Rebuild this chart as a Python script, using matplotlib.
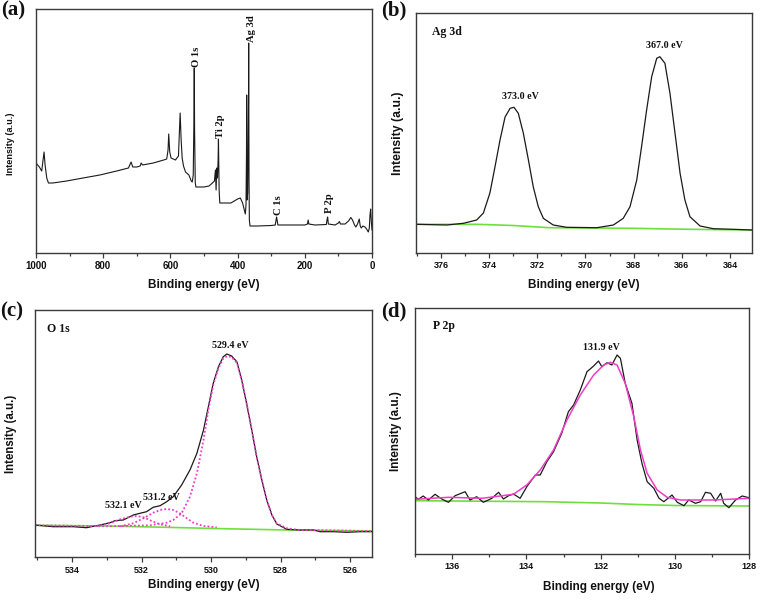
import matplotlib
matplotlib.use('Agg')
import matplotlib.pyplot as plt
from matplotlib.ticker import MultipleLocator

SANS = 'Liberation Sans'
SERIF = 'Liberation Serif'
plt.rcParams['font.family'] = SANS
plt.rcParams['font.weight'] = 'bold'

# ---------------- (a) survey spectrum ----------------
survey_be = [1000, 990, 983, 979, 976, 973, 968, 963, 950, 909, 860, 810, 760, 725, 717, 712,
             700, 690, 687, 683, 651, 620, 611, 607, 605, 602, 598, 585, 576, 573, 571, 568,
             565, 561, 555, 545, 538, 535, 532, 530, 529, 528, 526, 524, 500, 485, 475, 469,
             466, 464, 462, 460, 458, 457, 455, 453, 440, 420, 400, 392, 385, 380, 377, 375,
             373.5, 373, 372, 370, 367.5, 367, 366, 365, 363, 340, 300, 288, 285, 284, 283,
             280, 250, 200, 192, 190, 188, 170, 136, 134, 132, 130, 110, 100, 97, 94, 80, 70,
             63, 58, 52, 48, 43, 38, 35, 32, 27, 21, 16, 11, 8, 6, 4, 2, 0]
survey_int = [90, 86, 82, 93, 101, 88, 75, 70, 70, 72, 75, 78, 82, 85, 91, 86,
              86, 87, 90, 88, 90, 93, 94, 103, 119, 101, 95, 93, 97, 123, 140, 113,
              95, 87, 81, 78, 72, 71, 78, 133, 185, 123, 70, 66, 66, 67, 70, 72,
              83, 63, 85, 75, 93, 114, 63, 50, 50, 50, 54, 55, 50, 43, 39, 48,
              103, 158, 53, 60, 153, 210, 73, 33, 27, 27, 27.5, 28, 34, 36, 34,
              28, 28, 28, 29, 33, 29, 28, 28.5, 33, 36, 29, 28, 30, 31.5, 29, 29, 32,
              35.5, 33, 28, 26, 29, 34, 27, 25, 27, 26, 24, 21, 25, 38, 44, 31, 23]
survey_labels = ['O 1s', 'Ti 2p', 'Ag 3d', 'C 1s', 'P 2p']
survey_label_be = [521, 450, 358, 279, 125]
survey_label_int = [186, 115, 211, 38, 40]

# ---------------- (b) Ag 3d ----------------
ag_be = [377.04, 375.76, 375.07, 374.52, 374.24, 373.97, 373.76, 373.55, 373.34, 373.13, 372.97,
         372.79, 372.58, 372.37, 372.17, 371.96, 371.75, 371.34, 370.78, 369.53, 368.84, 368.43,
         368.15, 367.87, 367.67, 367.46, 367.25, 367.04, 366.91, 366.70, 366.49, 366.28, 366.07,
         365.87, 365.66, 365.24, 364.69, 363.86, 363.07]
ag_int = [28.7, 28, 29.7, 33, 40, 60, 86, 113, 136, 144.7, 145.7,
          139.7, 119.7, 93, 66.3, 46.3, 34.7, 28, 25.7, 25.3, 28, 34.7,
          46.3, 73, 106.3, 143, 176.3, 194.7, 196.3, 189.7, 159.7, 119.7, 79.7,
          53, 36.3, 27, 24.3, 23.7, 23]
ag_bg_be = [377.04, 374.5, 373, 371.5, 368, 366.5, 365, 363.07]
ag_bg_int = [28.7, 28.7, 27.5, 25.3, 24.7, 24, 23.5, 23]
ag_labels = ['373.0 eV', '367.0 eV']
ag_label_be = [372.72, 366.73]
ag_label_int = [156, 207]

# ---------------- (c) O 1s ----------------
o_be = [535.08, 534.55, 533.97, 533.59, 533.2, 532.91, 532.77, 532.53, 532.24, 532.05, 531.86,
        531.67, 531.47, 531.28, 531.09, 530.85, 530.61, 530.41, 530.22, 530.08, 529.94, 529.79,
        529.65, 529.55, 529.41, 529.26, 529.12, 528.98, 528.83, 528.69, 528.54, 528.4, 528.25,
        528.11, 527.82, 527.44, 527.05, 526.86, 526.48, 526.09, 525.71, 525.35]
o_int = [32.3, 30.6, 30.6, 29.6, 32.3, 34.6, 36.6, 37.3, 42.3, 44, 45.6,
         50, 51.6, 55.6, 60.6, 72.3, 87.3, 104, 127.3, 150.6, 174, 190.6,
         200.6, 203.3, 201.3, 195.6, 177.3, 154, 127.3, 100.6, 77.3, 57.3, 42.3,
         33.3, 28, 27.3, 27.3, 25.6, 25.6, 25, 25.6, 25.6]
o_fit1_be = [535.08, 532.91, 531.76, 531.28, 531.09, 530.85, 530.61, 530.41, 530.22, 530.08, 529.94,
             529.79, 529.65, 529.53, 529.41, 529.26, 529.12, 528.98, 528.83, 528.69, 528.54,
             528.4, 528.25, 528.11, 527.82, 527.44, 525.35]
o_fit1_int = [32, 31, 32, 34.6, 37.3, 44, 60.6, 84, 117.3, 147.3, 172.3,
              189, 199, 201.3, 200, 194.6, 177.3, 154, 127.3, 100.6, 77.3,
              57.3, 42.3, 34, 29, 27.3, 26.3]
o_fit2_be = [532.62, 532.24, 531.95, 531.67, 531.43, 531.28, 531.09, 530.9, 530.7, 530.51, 530.22, 529.84]
o_fit2_int = [31, 34, 39, 44.6, 47.6, 48.3, 47.3, 44, 39, 34.6, 31.3, 30]
o_fit3_be = [533.3, 532.91, 532.62, 532.33, 532.14, 531.95, 531.71, 531.47, 531.18]
o_fit3_int = [31, 34, 38, 40.6, 41.3, 40, 36.3, 33, 31]
o_bg_be = [535.08, 533, 531.3, 529.5, 527.8, 525.35]
o_bg_int = [32, 31.3, 30, 28.5, 27.3, 26.3]
o_labels = ['529.4 eV', '531.2 eV', '532.1 eV']
o_label_be = [529.46, 531.44, 532.53]
o_label_int = [212.3, 59.6, 51.6]

# ---------------- (d) P 2p ----------------
p_be = [137, 136.91, 136.78, 136.64, 136.46, 136.28, 136.1, 135.92, 135.65, 135.52, 135.34,
        135.16, 134.93, 134.75, 134.62, 134.48, 134.35, 134.17, 133.99, 133.76, 133.63, 133.45,
        133.27, 133.05, 132.87, 132.73, 132.55, 132.37, 132.19, 132.06, 131.97, 131.83, 131.70,
        131.56, 131.47, 131.34, 131.16, 131.02, 130.89, 130.75, 130.57, 130.43, 130.3, 130.08,
        129.94, 129.76, 129.63, 129.45, 129.31, 129.18, 129.04, 128.91, 128.77, 128.69, 128.55,
        128.37, 128.19, 128.01]
p_int = [57.3, 54.7, 58, 54, 59.7, 55, 51.7, 58.3, 62.3, 54, 57.3,
         51.7, 55.7, 61.7, 55, 58.3, 60, 55.7, 67.3, 79, 79, 92.3,
         102.3, 120.7, 142.3, 149, 164, 182.3, 188, 193, 187.3, 191.3, 189,
         199, 195.7, 170.7, 150.7, 114, 90.7, 72.3, 65.7, 55.7, 52.3, 59,
         51.7, 48.3, 54, 50.7, 52.3, 61.7, 60.7, 53, 60.7, 50.7, 46.3,
         54, 58, 56.3]
p_fit_be = [137, 136.1, 135.2, 134.35, 133.99, 133.63, 133.27, 132.91, 132.55, 132.19, 131.92,
            131.74, 131.56, 131.34, 131.11, 130.93, 130.75, 130.48, 130.21, 129.85, 128.95, 128.01]
p_fit_int = [54.7, 56.7, 55.7, 59.7, 69, 84, 104, 134, 159, 179, 189,
             191.7, 189, 170.7, 137.3, 104, 80.7, 64, 56.7, 54, 54, 55.7]
p_bg_be = [137, 133.5, 132, 131, 130, 128]
p_bg_int = [53.3, 52.3, 51, 49.5, 48.5, 48]
p_labels = ['131.9 eV']
p_label_be = [131.97]
p_label_int = [206.7]

# ---------------- figure ----------------
W, H = 760, 602
fig = plt.figure(figsize=(W / 100, H / 100), dpi=100)

def rect(l, r, t, b):
    return [l / W, 1 - b / H, (r - l) / W, (b - t) / H]

axa = fig.add_axes(rect(36, 372, 9.3, 253))
axb = fig.add_axes(rect(416, 752.3, 13.3, 253))
axc = fig.add_axes(rect(34.7, 372.3, 310, 557.3))
axd = fig.add_axes(rect(415, 749.3, 308.3, 554))

BLACK = '#1a1a1a'
GREEN = '#6ee03c'
PINK = '#f03cc8'
AX = '#3a3a3a'

def style(ax, xlim, ylim, major, minor, tsize, xl_y, yl_x, yl_y=0.5, xl_x=0.5):
    ax.set_xlim(*xlim)
    ax.set_ylim(*ylim)
    ax.xaxis.set_major_locator(MultipleLocator(major))
    ax.xaxis.set_minor_locator(MultipleLocator(minor))
    ax.set_yticks([])
    for s in ax.spines.values():
        s.set_color(AX)
        s.set_linewidth(1.0)
    ax.tick_params(axis='x', which='major', direction='out', length=3.6, width=0.9,
                   color=AX, labelsize=tsize, pad=2.5, labelcolor='#111111')
    ax.tick_params(axis='x', which='minor', direction='out', length=2.0, width=0.9, color=AX)
    ax.set_xlabel('Binding energy (eV)', fontsize=8.5, fontweight='bold', fontfamily=SANS,
                  color='#111111')
    ax.xaxis.set_label_coords(xl_x, xl_y)
    ax.xaxis.label.set_va('center')

style(axa, (1000, 0), (0, 243.7), 200, 100, 7, -0.131, -0.076, 0.447)
style(axb, (377.04, 363.07), (0, 239.7), 2, 1, 6.5, -0.133, -0.054)
style(axc, (535.08, 525.36), (0, 247.3), 2, 1, 6.5, -0.112, -0.069)
style(axd, (137, 128), (0, 245.7), 2, 1, 6.5, -0.134, -0.057, 0.5, 0.55)

ylab = [(axa, 6.6, -0.076, 0.447), (axb, 8.8, -0.054, 0.5),
        (axc, 8.3, -0.069, 0.5), (axd, 8.5, -0.057, 0.5)]
for ax, fs, x, y in ylab:
    ax.set_ylabel('Intensity (a.u.)', fontsize=fs, fontweight='bold', fontfamily=SANS,
                  color='#111111')
    ax.yaxis.set_label_coords(x, y)
    ax.yaxis.label.set_va('center')

# (a)
axa.plot(survey_be, survey_int, color=BLACK, lw=0.8)
for t, x, y in zip(survey_labels, survey_label_be, survey_label_int):
    axa.text(x, y, t, rotation=90, ha='center', va='bottom', fontsize=7.7,
             fontfamily=SERIF, fontweight='bold', color='#111111')

# (b)
axb.plot(ag_bg_be, ag_bg_int, color=GREEN, lw=1.2)
axb.plot(ag_be, ag_int, color=BLACK, lw=0.9)
for t, x, y in zip(ag_labels, ag_label_be, ag_label_int):
    axb.text(x, y, t, ha='center', va='center', fontsize=7.2, fontfamily=SERIF,
             fontweight='bold', color='#111111')
axb.text(376.39, 220.5, 'Ag 3d', ha='left', va='center', fontsize=8.5,
         fontfamily=SERIF, fontweight='bold', color='#111111')

# (c)
axc.plot(o_bg_be, o_bg_int, color=GREEN, lw=1.2)
axc.plot(o_be, o_int, color=BLACK, lw=0.9)
axc.plot(o_fit1_be, o_fit1_int, color=PINK, lw=1.3, ls=(0, (1, 1.2)))
axc.plot(o_fit2_be, o_fit2_int, color=PINK, lw=1.3, ls=(0, (1, 1.2)))
axc.plot(o_fit3_be, o_fit3_int, color=PINK, lw=1.3, ls=(0, (1, 1.2)))
for t, x, y in zip(o_labels, o_label_be, o_label_int):
    axc.text(x, y, t, ha='center', va='center', fontsize=7.2, fontfamily=SERIF,
             fontweight='bold', color='#111111')
axc.text(534.74, 228.3, 'O 1s', ha='left', va='center', fontsize=8.5,
         fontfamily=SERIF, fontweight='bold', color='#111111')

# (d)
axd.plot(p_bg_be, p_bg_int, color=GREEN, lw=1.2)
axd.plot(p_be, p_int, color=BLACK, lw=0.9)
axd.plot(p_fit_be, p_fit_int, color=PINK, lw=1.1)
for t, x, y in zip(p_labels, p_label_be, p_label_int):
    axd.text(x, y, t, ha='center', va='center', fontsize=7.2, fontfamily=SERIF,
             fontweight='bold', color='#111111')
axd.text(136.51, 228, 'P 2p', ha='left', va='center', fontsize=8.5,
         fontfamily=SERIF, fontweight='bold', color='#111111')

# panel letters
for t, x, y in [('(a)', 1, 0), ('(b)', 381.5, 0), ('(c)', 0.5, 301), ('(d)', 381.5, 301)]:
    fig.text(x / W, 1 - y / H, t, ha='left', va='top', fontsize=15,
             fontfamily=SERIF, fontweight='bold', color='#111111')

fig.savefig('out.png', dpi=100)
